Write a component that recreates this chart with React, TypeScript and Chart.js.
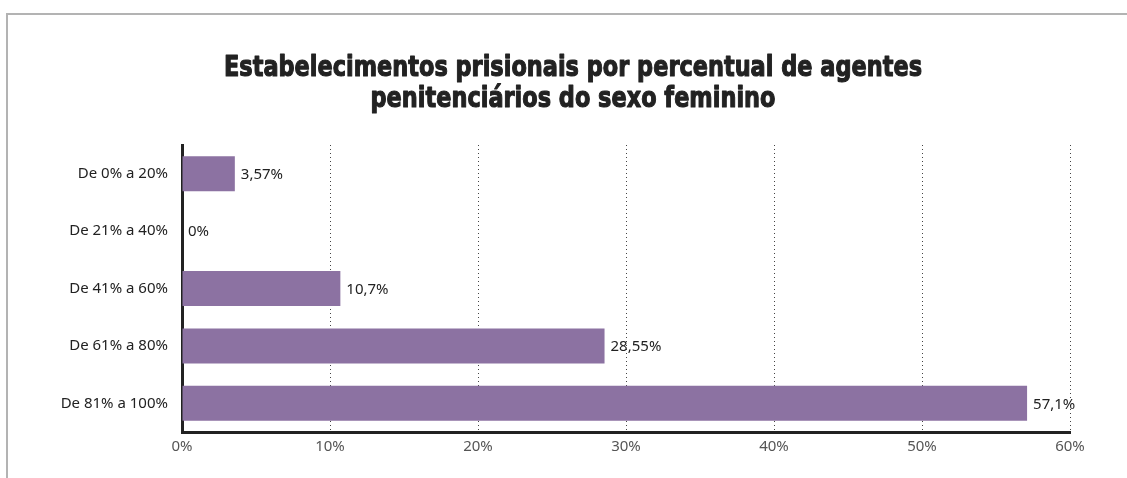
import React, { useEffect, useRef } from "react";
import { Chart, registerables } from "chart.js";

Chart.register(...registerables);

const categories = ["De 0% a 20%", "De 21% a 40%", "De 41% a 60%", "De 61% a 80%", "De 81% a 100%"];
const values = [3.57, 0, 10.7, 28.55, 57.1];
const valueLabels = ["3,57%", "0%", "10,7%", "28,55%", "57,1%"];
const titleLines = ["Estabelecimentos prisionais por percentual de agentes", "penitenciários do sexo feminino"];
const xMin = 0;
const xMax = 60;
const xStep = 10;

const LABEL_FONT = "'Noto Sans', 'Open Sans', sans-serif";
const TITLE_FONT = "'DejaVu Sans', sans-serif";

const framePlugin = {
  id: "frame",
  beforeDraw(chart: any) {
    const ctx = chart.ctx;
    ctx.save();
    ctx.strokeStyle = "#b3b3b3";
    ctx.lineWidth = 2;
    ctx.beginPath();
    ctx.moveTo(7, chart.height);
    ctx.lineTo(7, 14);
    ctx.lineTo(chart.width, 14);
    ctx.stroke();
    ctx.restore();
  },
  afterDraw(chart: any) {
    const ctx = chart.ctx;
    ctx.save();
    ctx.fillStyle = "#222";
    ctx.strokeStyle = "#222";
    ctx.lineWidth = 1.2;
    ctx.lineJoin = "round";
    ctx.textAlign = "center";
    ctx.textBaseline = "alphabetic";
    ctx.font = `bold 29px ${TITLE_FONT}`;
    const w = ctx.measureText(titleLines[0]).width;
    const sx = Math.min(1, 698 / w);
    const cx = 573;
    ctx.translate(cx, 0);
    ctx.scale(sx, 1);
    ctx.fillText(titleLines[0], 0, 76);
    ctx.strokeText(titleLines[0], 0, 76);
    ctx.fillText(titleLines[1], 0, 107);
    ctx.strokeText(titleLines[1], 0, 107);
    ctx.restore();
  },
};

const valueLabelPlugin = {
  id: "valueLabels",
  afterDatasetsDraw(chart: any) {
    const ctx = chart.ctx;
    const meta = chart.getDatasetMeta(0);
    ctx.save();
    ctx.fillStyle = "#222";
    ctx.font = `15px ${LABEL_FONT}`;
    ctx.textAlign = "left";
    ctx.textBaseline = "middle";
    meta.data.forEach((el: any, i: number) => {
      ctx.fillText(valueLabels[i], el.x + 6, el.y + 1);
    });
    ctx.restore();
  },
};

export default function App() {
  const ref = useRef<HTMLCanvasElement | null>(null);
  useEffect(() => {
    if (!ref.current) return;
    const chart = new Chart(ref.current, {
      type: "bar",
      data: {
        labels: categories,
        datasets: [
          {
            data: values,
            backgroundColor: "#8c72a2",
            borderWidth: 0,
            barPercentage: 0.61,
            categoryPercentage: 1,
          },
        ],
      },
      options: {
        indexAxis: "y",
        responsive: false,
        animation: false,
        layout: { padding: { top: 145, right: 57, bottom: 0, left: 0 } },
        plugins: {
          legend: { display: false },
          title: { display: false },
          tooltip: { enabled: false },
        },
        scales: {
          x: {
            min: xMin,
            max: xMax,
            afterFit(scale: any) {
              scale.height = 46;
            },
            ticks: {
              stepSize: xStep,
              padding: 6,
              color: "#555",
              font: { family: LABEL_FONT, size: 15 },
              callback: (v: any) => `${v}%`,
            },
            grid: {
              color: (c: any) => (c.tick && c.tick.value === 0 ? "rgba(0,0,0,0)" : "#444"),
              lineWidth: 1,
              drawTicks: false,
            },
            border: { display: true, color: "#222", width: 3, dash: [1, 3] },
          },
          y: {
            afterFit(scale: any) {
              scale.width = 182;
            },
            ticks: {
              padding: 14,
              color: "#222",
              font: { family: LABEL_FONT, size: 15 },
            },
            grid: { display: false, drawTicks: false },
            border: { display: true, color: "#222", width: 3 },
          },
        },
      },
      plugins: [framePlugin, valueLabelPlugin],
    });
    return () => chart.destroy();
  }, []);
  return (
    <div style={{ position: "fixed", left: 0, top: 0, width: 1127, height: 478, background: "#fff" }}>
      <canvas ref={ref} width={1127} height={478} style={{ display: "block" }} />
    </div>
  );
}
